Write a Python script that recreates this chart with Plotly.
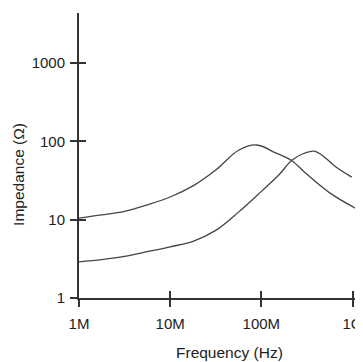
import plotly.graph_objects as go

# Impedance vs frequency for two parts
freq_a = [1e6, 1.78e6, 3.16e6, 5.62e6, 1e7, 1.78e7, 3.16e7, 5.62e7, 8.9e7,
          1.41e8, 2.14e8, 3.16e8, 5.62e8, 1.15e9]
imp_a = [10.5, 11.5, 12.8, 15.5, 19.5, 27, 43, 77, 90, 72, 57, 38, 22, 13.4]

freq_b = [1e6, 1.78e6, 3.16e6, 5.62e6, 1e7, 1.78e7, 3.16e7, 5.62e7, 1e8,
          1.58e8, 2.14e8, 2.82e8, 3.8e8, 5e8, 6.3e8, 9.8e8]
imp_b = [2.9, 3.1, 3.4, 3.9, 4.5, 5.3, 7.3, 12.5, 23, 38, 57, 69, 75, 62, 49, 35]

x_ticks = [1e6, 1e7, 1e8, 1e9]
x_labels = ["1M", "10M", "100M", "1G"]
y_ticks = [1, 10, 100, 1000]
y_labels = ["1", "10", "100", "1000"]

FONT = "Liberation Sans, Arial, sans-serif"
INK = "#333"

fig = go.Figure()
for fx, fy in [(freq_a, imp_a), (freq_b, imp_b)]:
    fig.add_trace(go.Scatter(
        x=fx, y=fy, mode="lines",
        line=dict(color="#444", width=1.3, shape="spline", smoothing=1.0),
        hoverinfo="skip", showlegend=False,
    ))

# invisible trace so the overlay axes (inner half of the cross ticks) get drawn
fig.add_trace(go.Scatter(
    x=[1e6], y=[1], xaxis="x2", yaxis="y2", mode="markers",
    marker=dict(opacity=0), hoverinfo="skip", showlegend=False,
))

xr = [6, 9.06]
yr = [0, 3.64]
common = dict(type="log", showgrid=False, zeroline=False, automargin=False,
              tickcolor=INK, tickwidth=1.5, ticklen=7)

# page body has an 8px margin, so the figure is 8px smaller than the window
fig.update_layout(
    width=355, height=354,
    margin=dict(l=71, r=5, t=5, b=64),
    plot_bgcolor="white", paper_bgcolor="white",
    font=dict(family=FONT, size=15, color="#222"),
    xaxis=dict(**common, range=xr, tickvals=x_ticks, ticktext=x_labels,
               ticks="outside", showline=True, linecolor=INK, linewidth=2,
               ticklabelstandoff=4),
    yaxis=dict(**common, range=yr, tickvals=y_ticks, ticktext=y_labels,
               ticks="outside", showline=True, linecolor=INK, linewidth=2,
               ticklabelstandoff=2),
    xaxis2=dict(**common, range=xr, tickvals=x_ticks, ticks="inside",
                showticklabels=False, showline=False, overlaying="x", anchor="y2"),
    yaxis2=dict(**common, range=yr, tickvals=y_ticks, ticks="inside",
                showticklabels=False, showline=False, overlaying="y", anchor="x2"),
    annotations=[
        dict(text="Frequency (Hz)", xref="paper", yref="paper", x=0.538, y=-0.19,
             xanchor="center", yanchor="middle", showarrow=False,
             font=dict(size=15.5)),
        dict(text="Impedance (Ω)", xref="paper", yref="paper", x=-0.219, y=0.435,
             xanchor="center", yanchor="middle", showarrow=False, textangle=-90,
             font=dict(size=15.5)),
    ],
)

fig.write_html("out.html")
